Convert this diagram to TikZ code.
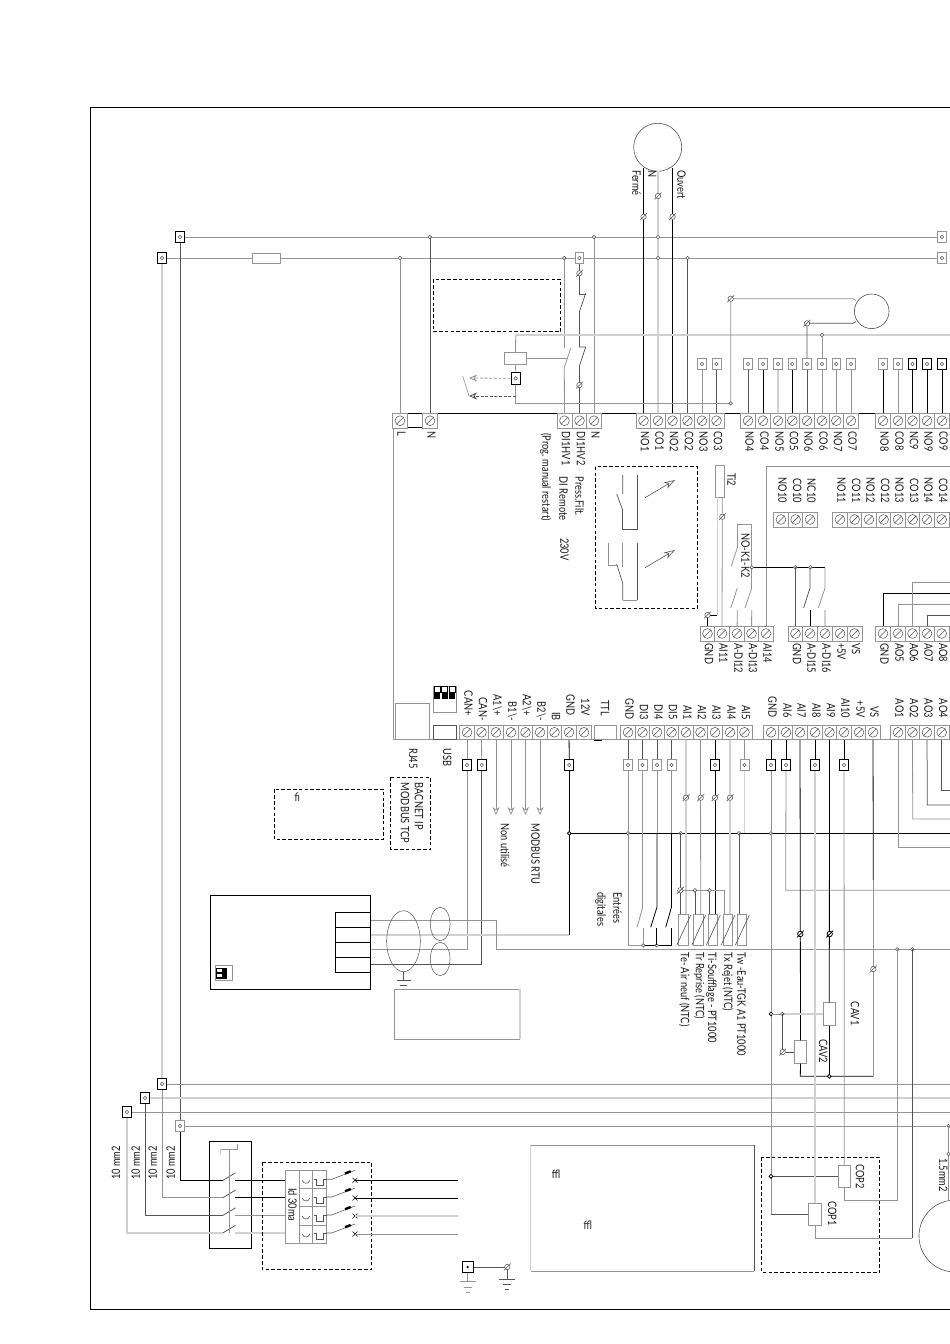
\documentclass[tikz,border=0pt]{standalone}
\usepackage{fontspec}
\setmainfont{Lato}[FakeStretch=0.8]
\usetikzlibrary{arrows.meta,calc,shapes.geometric}
\definecolor{wlight}{gray}{0.82}
\definecolor{wgray}{gray}{0.58}
\definecolor{wdark}{gray}{0.33}
\newcount\autoc
\def\nextname{\global\advance\autoc by 1 }
\tikzset{
  wk/.style={draw=black,line width=0.8pt},
  wd/.style={draw=wdark,line width=0.75pt},
  wg/.style={draw=wgray,line width=0.8pt},
  wl/.style={draw=wlight,line width=1.5pt},
  dashbox/.style={draw=black,line width=0.8pt,dash pattern=on 3.6pt off 2.2pt},
  lab/.style={inner sep=0pt,font=\fontsize{11.6}{12}\selectfont,text=black!90},
  tmbox/.style={draw=wgray,line width=0.6pt,minimum width=14.6pt,minimum height=14.6pt,inner sep=0pt,fill=white},
  sqk/.style={draw=black,line width=0.9pt,minimum width=8.8pt,minimum height=11pt,inner sep=0pt,fill=white},
  sqg/.style={draw=wgray,line width=0.7pt,minimum width=8.8pt,minimum height=11pt,inner sep=0pt,fill=white},
  jdot/.style={circle,draw=wdark,line width=0.6pt,minimum size=3.6pt,inner sep=0pt,fill=white},
  jdotk/.style={circle,draw=black,line width=0.8pt,minimum size=3.8pt,inner sep=0pt,fill=white},
  ssc/.style={circle,draw=wdark,line width=0.55pt,minimum size=5.4pt,inner sep=0pt,fill=white},
  sharrow/.style={-{Stealth[open,length=8pt,width=7pt,fill=white]}},
  hollowarrow/.style={-{Stealth[open,length=11pt,width=7pt,fill=white]}},
  comp/.style={draw=wgray,line width=0.7pt,fill=white},
  thinblack/.style={draw=black,line width=0.7pt}
}
\newcommand{\rl}[3]{\nextname\node[lab,rotate=-90,anchor=mid west,name=lb\the\autoc] at (#1,#2) {#3};}
\newcommand{\re}[3]{\nextname\node[lab,rotate=-90,anchor=mid east,name=lb\the\autoc] at (#1,#2) {#3};}
\newcommand{\ru}[3]{\nextname\node[lab,rotate=90,anchor=mid west,name=lb\the\autoc] at (#1,#2) {#3};}
\newcommand{\tm}[3]{\node[tmbox] (#1) at (#2,#3) {};
  \draw[wdark,line width=0.5pt] (#1.center) circle[radius=4.9pt];
  \draw[wdark,line width=0.6pt] ($(#1.center)+(-3.5pt,-3.5pt)$) -- ($(#1.center)+(3.5pt,3.5pt)$);}
\newcommand{\bx}[4]{\node[#2] (#1) at (#3,#4) {};
  \draw[wdark,line width=0.5pt] (#1.center) circle[radius=1.8pt];}
\newcommand{\ssy}[2]{\nextname\node[ssc,name=ss\the\autoc] at (#1,#2) {};
  \draw[wdark,line width=0.55pt] ($(ss\the\autoc.center)+(-3.4pt,-3.4pt)$) -- ($(ss\the\autoc.center)+(3.4pt,3.4pt)$);}
\newcommand{\ssk}[2]{\nextname\node[ssc,draw=black,line width=0.8pt,name=ss\the\autoc] at (#1,#2) {};
  \draw[black,line width=0.8pt] ($(ss\the\autoc.center)+(-3.4pt,-3.4pt)$) -- ($(ss\the\autoc.center)+(3.4pt,3.4pt)$);}
\newcommand{\jn}[2]{\nextname\node[jdot,name=jn\the\autoc] at (#1,#2) {};}
\newcommand{\jk}[2]{\nextname\node[jdotk,name=jn\the\autoc] at (#1,#2) {};}
\newcommand{\wv}[3]{\draw[#1] (#2) -- (#2 |- 0,#3);}
\newcommand{\earth}[3]{\draw[#3] (#1-8,#2) -- (#1+8,#2) (#1-4,#2+5.5) -- (#1+4,#2+5.5) (#1-2,#2+10.5) -- (#1+2,#2+10.5);}
\begin{document}
\begin{tikzpicture}[x=1pt,y=-1pt]
\useasboundingbox (0,0) rectangle (950,1344);
\fill[white] (0,0) rectangle (950,1344);
\clip (0,0) rectangle (950,1344);
% ---------- frame ----------
\draw[black,line width=0.9pt] (960,107) -- (90,107) -- (90,1309) -- (960,1309);
% ---------- board outline ----------
\draw[wgray,line width=0.7pt] (393,413.5) -- (393,739.3);
\draw[wgray,line width=0.7pt] (393,739.3) -- (950,739.3);
\draw[black,line width=1.1pt] (393,413.5) -- (950,413.5);
\draw[black,line width=0.8pt] (393,427.6) -- (437,427.6);
% ---------- top motor ----------
\node[circle,draw=wdark,line width=0.6pt,minimum size=48pt,inner sep=0pt] (motorA) at (657.7,147.3) {};
\node[circle,draw=wdark,line width=0.6pt,minimum size=34.6pt,inner sep=0pt] (motorB) at (871.7,311.3) {};
\node[circle,draw=wdark,line width=0.6pt,minimum size=72pt,inner sep=0pt] (motorC) at (955,1236) {};
\rl{635}{170}{Fermé}\rl{650.7}{170}{N}\rl{680}{170}{Ouvert}
% ---------- main rails ----------
\bx{railTa}{sqk}{180}{237}\bx{railTb}{sqk}{162}{258}
\bx{railRa}{sqg}{942}{237}\bx{railRb}{sqg}{942}{258}
\bx{railLa}{sqk}{162}{1084}\bx{railLb}{sqk}{145}{1098}\bx{railLc}{sqk}{127}{1112}\bx{railLd}{sqg}{180}{1126}
\node[comp,minimum width=28pt,minimum height=10pt,inner sep=0pt] (fuse) at (266,258) {};
\draw[wg] (railTa) -- (railRa);
\draw[wg] (railTb) -- (fuse) -- (railRb);
\draw[wl] (railTb) -- (railLa);
\draw[wd] (railTa) -- (railLd);
\draw[wg] (railLa) -- (950,1084);
\draw[wl] (railLb) -- (950,1098);
\draw[wg] (railLc) -- (950,1112);
\draw[wg] (railLd) -- (946,1126);
% ---------- terminal rows ----------
\foreach \n/\x/\t in {AL/400/L,AN/430/N,AHa/564.5/DI1HV1,AHb/579.5/DI1HV2,ANb/594/N,ANOa/643.5/NO1,ACOa/658/CO1,ANOb/672.5/NO2,ACOb/687.5/CO2,ANOc/702/NO3,ACOc/716.5/CO3,ANOd/748/NO4,ACOd/763/CO4,ANOe/778/NO5,ACOe/792.3/CO5,ANOf/807/NO6,ACOf/822/CO6,ANOg/836.3/NO7,ACOg/851/CO7,ANOh/883/NO8,ACOh/898/CO8,ANCi/912.5/NC9,ANOi/927/NO9,ACOi/942/CO9}{\tm{\n}{\x}{420.7}\rl{\x}{431.5}{\t}}
\foreach \n/\x/\t in {BNOa/781/NO10,BCOa/795.6/CO10,BNCa/810/NC10,BNOb/840/NO11,BCOb/854.6/CO11,BNOc/869/NO12,BCOc/883.6/CO12,BNOd/898/NO13,BCOd/912.6/CO13,BNOe/927/NO14,BCOe/941.7/CO14}{\tm{\n}{\x}{519.5}\re{\x}{503}{\t}}
\foreach \n/\x/\t in {Cga/707.5/GND,Cab/722/AI11,Cac/737/A-DI12,Cad/751.5/A-DI13,Cae/766/AI14,Cgb/795.5/GND,Caf/810/A-DI15,Cag/825/A-DI16,Cah/840/+5V,Cai/854.5/VS,Cgc/883/GND,Caj/898/AO5,Cak/912.5/AO6,Cal/927/AO7,Cam/941.7/AO8}{\tm{\n}{\x}{633.5}\rl{\x}{643}{\t}}
\foreach \n/\x/\t/\e in {Dca/467/CAN+/716,Dcb/481.5/CAN-/721,Dab/496/A1\textbackslash+/716,Dbb/511/B1\textbackslash-/721,Dac/525.5/A2\textbackslash+/716,Dbc/540/B2\textbackslash-/721,Dib/554.5/IB/721,Dgg/569/GND/716,Dtw/584/12V/716,Dga/628/GND/720,Ddc/642.5/DI3/720,Ddd/657/DI4/720,Dde/671.5/DI5/720,Dea/686/AI1/720,Deb/700.5/AI2/720,Dec/715/AI3/720,Ded/730/AI4/720,Dee/744.5/AI5/720,Dgb/771/GND/718,Dff/786/AI6/718,Dfg/800/AI7/718,Dfh/815/AI8/718,Dfi/829.5/AI9/718,Dfj/844/AI10/718,Dfv/859/+5V/718,Dvs/873/VS/718,Dma/898/AO1/718,Dmb/912.5/AO2/718,Dmc/927/AO3/718,Dmd/941.7/AO4/718}{\tm{\n}{\x}{732.3}\re{\x}{\e}{\t}}
\node[comp,minimum width=22.7pt,minimum height=13.3pt,inner sep=0pt] (ttl) at (605.3,732.4) {};
\draw[black,line width=1pt] (594,740) -- (602,740);
\re{603.5}{716}{TTL}
\node[comp,minimum width=33.7pt,minimum height=35.7pt,inner sep=0pt] (rj) at (412.2,721.2) {};
\node[draw=wdark,line width=0.7pt,fill=white,minimum width=23pt,minimum height=13.3pt,inner sep=0pt] (usb) at (445.2,732.4) {};
\rl{411.7}{748}{RJ45}\rl{445.7}{748}{USB}
% DIP switch
\node[draw=wgray,line width=0.5pt,minimum width=23.4pt,minimum height=26.7pt,inner sep=0pt] (dip) at (445,699.3) {};
\foreach \x in {434,441.7,449.4}{
  \draw[black,line width=0.7pt,fill=white] (\x,686) rectangle ({\x+6},692);
  \fill[black] (\x,692) rectangle ({\x+6},699);}
% ---------- upper small boxes ----------
\bx{UNOc}{sqg}{702}{364}\bx{UCOc}{sqg}{716.5}{364}\bx{UNOd}{sqg}{748}{364}\bx{UCOd}{sqg}{763}{364}
\bx{UNOe}{sqg}{778}{364}\bx{UCOe}{sqg}{792.3}{364}\bx{UNOf}{sqg}{807}{364}\bx{UCOf}{sqg}{822}{364}
\bx{UNOg}{sqg}{836.3}{364}\bx{UCOg}{sqg}{851}{364}\bx{UNOh}{sqg}{883}{364}\bx{UCOh}{sqg}{898}{364}
\bx{UNCi}{sqk}{912.5}{364}\bx{UNOi}{sqk}{927}{364}\bx{UCOi}{sqk}{942}{364}
\draw[wg] (ANOc) -- (UNOc); \draw[wd] (ACOc) -- (UCOc); \draw[wd] (ANOd) -- (UNOd);
\draw[wk] (ACOd) -- (UCOd); \draw[wl] (ANOe) -- (UNOe); \draw[wk] (ACOe) -- (UCOe);
\draw[wd] (ANOf) -- (UNOf); \draw[wg] (ACOf) -- (UCOf); \draw[wg] (ANOg) -- (UNOg);
\draw[wg] (ACOg) -- (UCOg); \draw[wk] (ANOh) -- (UNOh); \draw[wg] (ACOh) -- (UCOh);
\draw[wk] (ANCi) -- (UNCi); \draw[wk] (ANOi) -- (UNOi); \draw[wk] (ACOi) -- (UCOi);
% ---------- top terminal wiring ----------
\wv{wg}{AL}{258}\jn{400}{258}
\wv{wd}{AN}{237}\jn{429.8}{237}
\wv{wg}{ANb}{237}\jn{594}{237}
\wv{wk}{ANOa}{168}
\wv{wl}{ACOa}{171}
\wv{wk}{ANOb}{168}
\jn{658}{237}\jn{658}{258}
\ssy{643.5}{216.7}\ssy{658}{196}\ssy{672.5}{216.7}
\wv{wd}{ACOb}{258}\jn{687.5}{258}
% relay section
\draw[dashbox] (433.3,279.3) rectangle (560.7,331.7);
\jn{564.3}{258}
\draw[wg] (564.3,258) -- (564.3,348.3);
\draw[wg] (570.7,348.3) -- (564.3,367.3) -- (AHa);
\bx{Hb}{sqg}{579.4}{258}
\draw[wd] (Hb) -- (579.4,294) -- (585.7,294);
\draw[wd] (585.7,293.3) -- (579.4,311.7) -- (579.4,347) -- (585.7,347);
\draw[wd] (585.7,347) -- (579.4,366) -- (AHb);
\ssy{579.4}{273.3}\ssy{579.4}{385}
\node[comp,minimum width=22.4pt,minimum height=12.4pt,inner sep=0pt] (relay) at (515.5,358.5) {};
\draw[wg] (relay.east) -- (568,358.5);
\draw[wl] (515.7,335) -- (950,335);
\draw[wg] (relay.north) -- (515.7,335);
\node[sqk,minimum width=9.3pt,minimum height=12.7pt] (relB) at (515.7,378.3) {};
\draw[wdark,line width=0.5pt] (relB.center) circle[radius=1.8pt];
\draw[wg] (relay.south) -- (relB.north);
\coordinate (relEnd) at (730.7,403.3);
\draw[wg] (relB.south) -- (515.7,403.3) -- (relEnd);
\draw[wgray,line width=0.8pt,dash pattern=on 3pt off 1.6pt,sharrow] (relB.west) -- (469,378);
\draw[wdark,line width=0.8pt,dash pattern=on 3pt off 1.6pt,sharrow] (515.7,396) -- (469,396);
\draw[wgray,line width=0.6pt] (462.7,376) -- (469,396);
% second motor
\jn{730.7}{403.3}
\draw[wg] (relEnd) -- (730.7,298.7) -- (853,298.7) -- (856,300.5);
\ssy{730.7}{298.7}
\draw[wd] (UNOf) -- (807,323.3) -- (853,323.3) -- (856,321.5);
\ssy{807}{323.3}
\draw[wg] (UCOf) -- (822,335); \jn{822}{335}
% ---------- middle dashed symbol box ----------
\draw[dashbox] (595.3,466.7) rectangle (697.3,608.3);
\draw[wdark,line width=0.7pt] (637.3,475) -- (637.3,529) -- (622.7,529) -- (622.7,510);
\draw[wdark,line width=0.7pt] (622.7,510) -- (616.7,494) (622.7,494) -- (622.7,475);
\draw[wdark,line width=0.6pt,hollowarrow] (645,497.7) -- (675,480);
\draw[wdark,line width=0.6pt,hollowarrow] (645,567.7) -- (675,550);
\draw[wdark,line width=0.7pt] (637.3,543.3) -- (637.3,600);
\draw[wgray,line width=0.8pt] (637.3,600) -- (622.7,600);
\draw[wdark,line width=0.7pt] (622.7,600) -- (622.7,583.3) -- (616.7,564);
\draw[wgray,line width=0.7pt] (608.3,543.3) -- (608.3,565) -- (616.7,565);
\draw[wgray,line width=0.7pt] (622.7,543.3) -- (622.7,566.7);
% text block
\rl{578}{476.7}{Press.Filt.}\rl{562}{476.7}{DI Remote}\rl{563}{538}{230V}\rl{545}{433}{(Prog. manual restart)}
% ---------- Ti2 / contacts ----------
\node[comp,minimum width=8.3pt,minimum height=31.6pt,inner sep=0pt] (ti) at (719.8,481.5) {};
\rl{730}{473}{Ti2}
\draw[wl] (717.7,497.3) -- (717.7,615);
\draw[wg] (722.3,497.3) -- (Cab);
\ssy{722.3}{516.7}
\draw[wk] (Cga) -- (707.5,615) -- (716.7,615);
\ssy{707.5}{615}
\draw[wg] (737.3,548) -- (737.3,524) -- (751.7,524) -- (751.7,588);
\draw[wg] (737.3,548) -- (731.3,566);
\rl{744}{533}{NO-K1-K2}
\draw[wg] (737.3,588) -- (730.7,608);
\draw[wg] (751.7,588) -- (745,608);
\draw[wg] (737.3,610) -- (Cac);
\draw[wg] (751.7,610) -- (Cad);
\draw[wg] (Cae) -- (766,466.5) -- (950,466.5);
\draw[wk] (751.7,567.3) -- (825,567.3);
\jn{751.7}{567.3}\jn{795.3}{567.3}\jn{810.3}{567.3}
\draw[wd] (Cgb) -- (795.5,567.3);
\draw[wd] (810,567.3) -- (810,588) -- (803.6,608);
\draw[wk] (Caf) -- (810,610);
\draw[wg] (825,567.3) -- (825,588) -- (818.4,608);
\draw[wl] (Cag) -- (825,610);
% AO group, row C
\draw[wk] (Cgc) -- (883,593.3) -- (950,593.3);
\draw[wg] (Caj) -- (898,604.3) -- (950,604.3);
\draw[wg] (Cak) -- (912.5,582.3) -- (950,582.3);
\draw[wd] (Cal) -- (927,615.3) -- (950,615.3);
% ---------- lower row boxes ----------
\bx{Lca}{sqk}{467}{765}\bx{Lcb}{sqk}{481.7}{765}\bx{Lgg}{sqk}{569.3}{765}
\bx{Lga}{sqg}{628}{765}\bx{Ldc}{sqg}{642.5}{765}\bx{Ldd}{sqg}{657}{765}\bx{Lde}{sqg}{671.5}{765}
\bx{Lec}{sqk}{715}{765}\bx{Lee}{sqg}{744.5}{765}
\bx{Lgb}{sqk}{771}{765}\bx{Lff}{sqk}{786}{765}\bx{Lfh}{sqk}{815}{765}\bx{Lfj}{sqk}{844}{765}
\draw[wg] (Dca) -- (Lca); \draw[wg] (Dcb) -- (Lcb); \draw[wk] (Dgg) -- (Lgg);
\draw[wd] (Dga) -- (Lga); \draw[wd] (Ddc) -- (Ldc); \draw[wd] (Ddd) -- (Ldd); \draw[wd] (Dde) -- (Lde);
\draw[wk] (Dec) -- (Lec); \draw[wg] (Dee) -- (Lee);
\draw[wk] (Dgb) -- (Lgb); \draw[wk] (Dff) -- (Lff); \draw[wk] (Dfh) -- (Lfh); \draw[wk] (Dfj) -- (Lfj);
% bus wires
\draw[wg] (Lca) -- (467,949.3) -- (370,949.3);
\draw[wd] (Lcb) -- (481.7,964.3) -- (370,964.3);
\draw[wl] (370,935) -- (569.3,935);
\draw[wk] (Lgg) -- (569.3,935);
\draw[wg] (370,920) -- (496.3,920) -- (496.3,949.3) -- (950,949.3);
\jn{897.3}{949.3}\jn{912.3}{949.3}
% arrows
\foreach \n in {Dab,Dbb,Dac,Dbc}{\draw[wg,line width=0.7pt,sharrow] (\n) -- (\n |- 0,815);}
\rl{503.3}{823.3}{Non utilisé}\rl{534}{823.3}{MODBUS RTU}
\draw[dashbox] (390.7,777.3) rectangle (430.7,849.3);
\rl{417.3}{782.7}{BACNET IP}\rl{403.3}{782.7}{MODBUS TCP}
\draw[dashbox] (274.3,789.3) rectangle (383.3,839.3);
\node[lab] (fitext) at (297.3,797.5) {fi};
% black line
\draw[wk] (569.3,833.3) -- (950,833.3);
\jk{569.3}{833.3}\jn{628}{833.3}\jn{680.7}{833.3}\jn{739}{833.3}\jn{771}{833.3}
% digital inputs
\draw[wg] (Lga) -- (628,945.3) -- (643,945.3);
\draw[wk] (643,945.3) -- (671.5,945.3);
\jn{643.3}{945.3}\jn{656.7}{945.3}
\draw[wg] (Ldc) -- (642.5,908) -- (637,927.3);
\draw[wg] (643.3,928) -- (643.3,945.3);
\draw[wg] (Ldd) -- (657,833.3);
\draw[wk] (657,833.3) -- (657,907) -- (650.7,927.3);
\draw[wk] (656.7,928) -- (656.7,945.3);
\draw[wg] (Lde) -- (671.5,833.3);
\draw[wk] (671.5,833.3) -- (671.5,907) -- (665.7,927.3);
\draw[wk] (671.7,928) -- (671.7,945.3);
\rl{616}{892.3}{Entrées}\rl{600}{892.3}{digitales}
% sensors
\foreach \x in {678.7,693.7,708.3,723,737.3}{
  \draw[wgray,line width=0.7pt,fill=white] (\x,914) rectangle ({\x+9.3},945.3);
  \draw[wdark,line width=0.6pt] ({\x-2},945.3) -- ({\x+12},915);}
\draw[wl] (Dea) -- (686,914); \ssy{686}{797.7}
\draw[wg] (Deb) -- (700.7,914); \ssy{700.7}{797.7}
\draw[wk] (Lec) -- (715,914); \ssy{715}{797.7}
\draw[wl] (Ded) -- (730,914); \ssy{730}{797.7}
\draw[wl] (Lee) -- (744.5,833.3);
\draw[wd] (680.7,833.3) -- (680.7,914);
\draw[wd] (739,833.3) -- (739,914);
\draw[wg] (680.3,890.3) -- (724.3,890.3) -- (724.3,914);
\draw[wd] (695,890.3) -- (695,914);
\draw[wd] (709.7,890.3) -- (709.7,914);
\ssy{680.3}{890.3}\jn{695}{890.3}\jn{709.7}{890.3}
\rl{683.3}{952.7}{Te- Air neuf (NTC)}
\rl{698.3}{952.7}{Tr Reprise (NTC)}
\rl{710.7}{952.7}{Ti-Soufflage - PT1000}
\rl{726.7}{952.7}{Tx Rejet (NTC)}
\rl{740}{952.7}{Tw -Eau-TGK A1 PT1000}
% ---------- right lower wiring ----------
\draw[wg] (Lgb) -- (771,1214.3);
\draw[wg] (Lff) -- (785.7,890.3) -- (950,890.3);
\node[comp,minimum width=12pt,minimum height=22.6pt,inner sep=0pt] (cav1) at (829.3,1014) {};
\node[comp,minimum width=12.4pt,minimum height=22.6pt,inner sep=0pt] (cav2) at (800.5,1052) {};
\rl{853.3}{1001.7}{CAV1}\rl{821.7}{1039}{CAV2}
\draw[wk] (Dfg) -- (cav2.north); \ssk{800.3}{934}
\draw[wk] (Dfi) -- (cav1.north); \ssk{829.7}{934}
\draw[wk] (cav2.south) -- (800.3,1076.3) -- (873.3,1076.3);
\draw[wk] (cav1.south) -- (829.3,1076.3); \jk{829.3}{1076.3}
\draw[wk] (Dvs) -- (873.3,880);
\draw[wg] (873.3,880) -- (873.3,1076.3); \ssy{873.3}{969}
\jk{771}{1014}
\draw[wg] (771,1014) -- (782.3,1014);
\draw[wlight,line width=1.1pt] (782.3,1014) -- (cav1.west);
\jn{782.3}{1014}
\draw[wd] (782.3,1014) -- (782.3,1052) -- (cav2.west);
\ssy{782.7}{1052}
% compressors
\draw[dashbox] (761.7,1157.3) rectangle (879.7,1272.3);
\node[comp,minimum width=12.7pt,minimum height=22pt,inner sep=0pt] (cop2) at (844.3,1176.3) {};
\node[comp,minimum width=12.6pt,minimum height=22pt,inner sep=0pt] (cop1) at (815,1214.3) {};
\rl{858.3}{1164}{COP2}\rl{830.7}{1201}{COP1}
\draw[wd] (771,1176.3) -- (cop2.west); \jk{771}{1176.3}
\draw[wd] (771,1214.3) -- (cop1.west);
\draw[wl] (Lfh) -- (cop1.north);
\draw[wg] (Lfj) -- (cop2.north);
\draw[wg] (cop2.south) -- (844.3,1200.3) -- (897.3,1200.3) -- (897.3,949.3);
\draw[wg] (cop1.south) -- (815,1238.3) -- (912.3,1238.3);
\draw[wd] (912.3,1238.3) -- (912.3,949.3);
% AO row D
\draw[wg] (Dma) -- (898,847.7) -- (950,847.7);
\draw[wg] (Dmb) -- (912.7,819) -- (950,819);
\draw[wd] (Dmc) -- (927.3,805) -- (950,805);
\draw[wd] (Dmd) -- (941.7,790.7) -- (950,790.7);
% lower right motor lead
\jn{948.5}{1126}
\draw[wg] (948.5,1126) -- (948.5,1200);
\jn{948.5}{1154}
\rl{941.7}{1158}{1.5mm2}
% ---------- air handler box ----------
\node[draw=black,line width=0.9pt,minimum width=159.6pt,minimum height=93.7pt,inner sep=0pt] (ahu) at (290.5,942.1) {};
\draw[black,line width=0.8pt] (335.7,912.7) rectangle (370.3,972.3);
\draw[black,line width=0.8pt] (335.7,927.3) -- (370.3,927.3) (335.7,942.3) -- (370.3,942.3) (335.7,957.3) -- (370.3,957.3);
\draw[wgray,line width=0.6pt] (215.3,965.7) rectangle (232.3,980.3);
\fill[black] (216,967.5) rectangle (226.7,978.5);
\fill[white] (217.2,968.8) rectangle (221.5,972.3);
\fill[white] (217.2,974) rectangle (221.5,977.3);
\node[ellipse,draw=wdark,line width=0.5pt,minimum width=33.6pt,minimum height=61pt,inner sep=0pt] (shield) at (403.5,941.2) {};
\node[ellipse,draw=wdark,line width=0.5pt,minimum width=19.7pt,minimum height=33.4pt,inner sep=0pt] (fera) at (440.2,924) {};
\node[ellipse,draw=wdark,line width=0.5pt,minimum width=19.7pt,minimum height=33.4pt,inner sep=0pt] (ferb) at (440.2,959) {};
\draw[wdark,line width=0.6pt] (shield.south) -- (403.5,980);
\draw[wdark,line width=0.6pt] (396.5,980) -- (410.5,980) (400,985) -- (407,985) (402,989) -- (405,989);
\draw[wgray,line width=0.7pt] (520,989.3) -- (394.3,989.3) -- (394.3,1039.3) -- (520,1039.3);
\draw[wlight,line width=1.1pt] (520,989.3) -- (520,1039.3);
% ---------- mains and breakers ----------
\node[draw=black,line width=0.9pt,minimum width=42pt,minimum height=107.7pt,inner sep=0pt] (mainsw) at (230.7,1194.9) {};
\foreach \s/\xs/\y/\ci/\co in {railLd/180/1180.3/wk/wk,railLa/162/1197.6/wg/wk,railLb/145/1215.3/wd/wg,railLc/127/1232.8/wl/wl}{
  \draw[\ci] (\s) -- (\xs,\y) -- (223,\y);
  \draw[wd] (223,\y) -- (235.5,{\y-7.5});
  \draw[\co] (235,\y) -- (285.3,\y);
}
\draw[wgray,line width=0.7pt] (229,1149) -- (229,1233);
\draw[wgray,line width=0.7pt] (220,1149) -- (237.7,1149) -- (237.7,1144);
\draw[wlight,line width=0.9pt] (220,1149) -- (220,1155);
\foreach \x/\y/\t in {117.7/1180/10 mm2,137.3/1180/10 mm2,154.3/1180/10 mm2,172.3/1180/10 mm2}{\ru{\x}{\y}{\t}}
\draw[dashbox] (262.3,1162.3) rectangle (371.7,1269.3);
\draw[wgray,line width=0.7pt,fill=white] (285.3,1170.7) rectangle (326.7,1243.3);
\draw[wgray,line width=0.7pt] (299.3,1170.7) -- (299.3,1243.3) (312.7,1170.7) -- (312.7,1243.3);
\draw[wgray,line width=0.7pt] (299.3,1188) -- (326.7,1188) (299.3,1206.7) -- (326.7,1206.7) (299.3,1225) -- (326.7,1225);
\rl{291}{1188}{Id 30ma}
\foreach \y/\c in {1180.3/wk,1198/wk,1216/wl,1234/wg}{
  \draw[wd,line width=0.55pt] (302,\y) .. controls (304,{\y+4}) and (308,{\y+4}) .. (310,\y);
  \draw[wd,line width=0.55pt] (314,{\y-1}) -- (316.7,{\y-1}) -- (316.7,{\y+5}) -- (323.3,{\y+5}) -- (323.3,{\y-1}) -- (326.7,{\y-1});
  \draw[wd,line width=0.55pt] (326.7,{\y-1}) -- (331.7,{\y-1}) -- (355,{\y-10});
  \draw[black,line width=2.4pt] (345,{\y-6.8}) -- (350.7,{\y-9});
  \draw[black,line width=0.6pt] (352.5,{\y-2.5}) -- (357.5,{\y+2.5}) (352.5,{\y+2.5}) -- (357.5,{\y-2.5});
  \draw[\c] (355,\y) -- (458,\y);
}
% earth
\node[sqk,minimum width=11pt,minimum height=11pt] (earthA) at (467.7,1267) {};
\fill[black] (earthA.center) circle[radius=1.3pt];
\ssy{507.3}{1267}
\draw[wd] (earthA) -- (504.5,1267);
\draw[wg] (earthA.south) -- (467.7,1281.3);
\draw[wd] (507.3,1270) -- (507.3,1279);
\earth{467.7}{1281.3}{wg,line width=0.6pt}
\earth{507.3}{1279}{wd,line width=0.6pt}
% plain box at bottom
\draw[wgray,line width=0.7pt] (530.7,1145.3) -- (754.3,1145.3);
\draw[wgray,line width=0.7pt] (530.7,1271.3) -- (754.3,1271.3);
\draw[wdark,line width=0.7pt] (754.3,1145.3) -- (754.3,1271.3);
\draw[wlight,line width=1.1pt] (530.9,1145.3) -- (530.9,1271.3);
\node[lab] (ffla) at (556,1174.3) {ffl};
\node[lab] (fflb) at (587.7,1225) {ffl};
\end{tikzpicture}
\end{document}
